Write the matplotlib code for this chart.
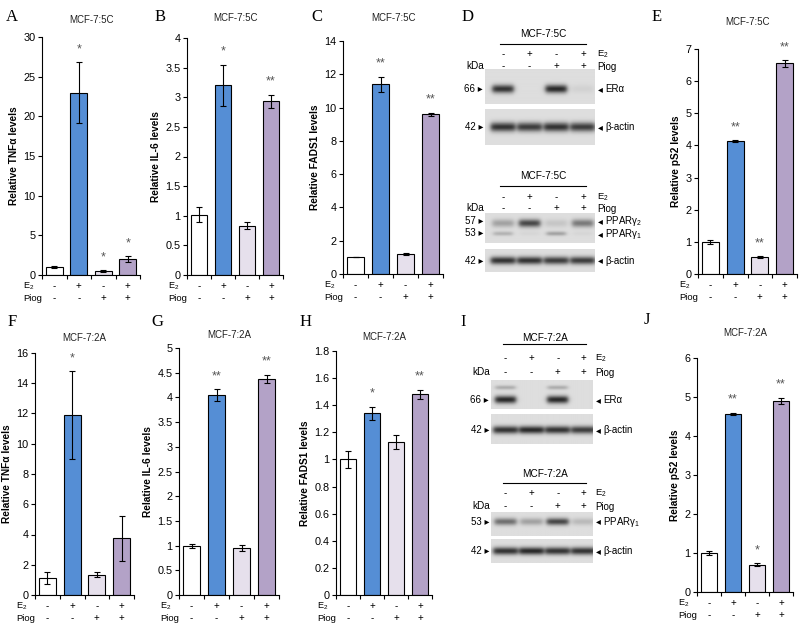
import numpy as np
import matplotlib
matplotlib.use("Agg")
import matplotlib.pyplot as plt
import matplotlib.transforms as mtransforms

plt.rcParams['font.family'] = ['Liberation Sans', 'DejaVu Sans']
plt.rcParams['mathtext.fontset'] = 'custom'
plt.rcParams['mathtext.rm'] = 'Liberation Sans'
plt.rcParams['mathtext.it'] = 'Liberation Sans:italic'
plt.rcParams['mathtext.bf'] = 'Liberation Sans:bold'

# ---- bar chart data (4 conditions: ctrl, E2, Piog, E2+Piog) ----
e2_signs = ['-', '+', '-', '+']
piog_signs = ['-', '-', '+', '+']
bar_colors = ['#ffffff', '#558ed5', '#e6e0ec', '#b3a2c7']

a_vals = [1.0, 23.0, 0.5, 2.0]
a_errs = [0.1, 3.8, 0.1, 0.35]
a_sig = ['', '*', '*', '*']

b_vals = [1.02, 3.2, 0.83, 2.93]
b_errs = [0.13, 0.35, 0.06, 0.11]
b_sig = ['', '*', '', '**']

c_vals = [1.0, 11.4, 1.2, 9.6]
c_errs = [0.0, 0.45, 0.06, 0.1]
c_sig = ['', '**', '', '**']

e_vals = [1.0, 4.13, 0.53, 6.55]
e_errs = [0.06, 0.03, 0.03, 0.1]
e_sig = ['', '**', '**', '**']

f_vals = [1.1, 11.9, 1.35, 3.75]
f_errs = [0.4, 2.9, 0.15, 1.5]
f_sig = ['', '*', '', '']

g_vals = [1.0, 4.05, 0.95, 4.38]
g_errs = [0.04, 0.12, 0.06, 0.08]
g_sig = ['', '**', '', '**']

h_vals = [1.0, 1.34, 1.13, 1.48]
h_errs = [0.06, 0.05, 0.05, 0.035]
h_sig = ['', '*', '', '**']

j_vals = [1.0, 4.57, 0.7, 4.9]
j_errs = [0.05, 0.03, 0.04, 0.08]
j_sig = ['', '**', '*', '**']

# ---- western blot band intensities per lane ----
d_era = [0.85, 0.0, 0.9, 0.06]
d_actin1 = [0.85, 0.8, 0.85, 0.8]
d_ppar2 = [0.3, 0.75, 0.12, 0.5]
d_ppar1 = [0.22, 0.04, 0.3, 0.04]
d_actin2 = [0.85, 0.85, 0.8, 0.8]

i_era = [0.9, 0.0, 0.9, 0.0]
i_era_upper = [0.25, 0.0, 0.25, 0.0]
i_actin1 = [0.85, 0.9, 0.85, 0.8]
i_ppar1 = [0.55, 0.3, 0.75, 0.18]
i_actin2 = [0.85, 0.9, 0.85, 0.85]

W, H = 800, 630
fig = plt.figure(figsize=(8, 6.3), dpi=100)


def rect(l, t, r, b):
    return [l / W, 1 - b / H, (r - l) / W, (b - t) / H]


def fy(y):
    return 1 - y / H


FS = 6.5
LETTER_FS = 12


def bar_panel(box, vals, errs, sig, ymax, ystep, ylabel, title, letter, letter_xy, title_y):
    ax = fig.add_axes(rect(*box))
    x = np.arange(len(vals))
    ax.bar(x, vals, width=0.68, color=bar_colors, edgecolor='black', linewidth=0.8, zorder=2)
    ax.errorbar(x, vals, yerr=errs, fmt='none', ecolor='black', elinewidth=0.8,
                capsize=2.5, capthick=0.8, zorder=3)
    ax.set_xlim(-0.5, 3.5)
    ax.set_ylim(0, ymax)
    ticks = np.arange(0, ymax + ystep / 2, ystep)
    ax.set_yticks(ticks)
    ax.set_yticklabels(['{:g}'.format(round(t, 2)) for t in ticks])
    ax.set_xticks([-0.5, 0.5, 1.5, 2.5, 3.5])
    ax.set_xticklabels([])
    for s in ['top', 'right']:
        ax.spines[s].set_visible(False)
    for s in ['left', 'bottom']:
        ax.spines[s].set_linewidth(0.8)
    ax.tick_params(direction='out', length=3, width=0.8, labelsize=7.8, pad=1.5)
    ax.set_ylabel(ylabel, fontsize=7.3, fontweight='bold', labelpad=3)
    for xi, v, e, s in zip(x, vals, errs, sig):
        if s:
            ax.annotate(s, (xi, v + e), xytext=(0, 5), textcoords='offset points',
                        ha='center', va='bottom', fontsize=9, color='#555555')
    # condition rows under the axis
    tr = mtransforms.blended_transform_factory(ax.transData, fig.transFigure)
    bottom = box[3]
    for xi, s1, s2 in zip(x, e2_signs, piog_signs):
        ax.text(xi, fy(bottom + 11), s1, transform=tr, ha='center', va='center', fontsize=7)
        ax.text(xi, fy(bottom + 23), s2, transform=tr, ha='center', va='center', fontsize=7)
    ax.text(-0.8, fy(bottom + 11), 'E$_2$', transform=tr, ha='right', va='center', fontsize=6.6)
    ax.text(-0.5, fy(bottom + 23.5), 'Piog', transform=tr, ha='right', va='center', fontsize=6.8)
    fig.text((box[0] + box[2]) / 2 / W, fy(title_y), title, ha='center', va='center',
             fontsize=7, color='#222222')
    fig.text(letter_xy[0] / W, fy(letter_xy[1]), letter, ha='center', va='center',
             fontsize=LETTER_FS, family='Liberation Serif')
    return ax


bar_panel((42, 37, 140, 275), a_vals, a_errs, a_sig, 30, 5, 'Relative TNFα levels', 'MCF-7:5C', 'A', (12, 17), 20)
bar_panel((187, 38, 283, 275), b_vals, b_errs, b_sig, 4, 0.5, 'Relative IL-6 levels', 'MCF-7:5C', 'B', (160, 17), 18)
bar_panel((343, 41, 443, 274), c_vals, c_errs, c_sig, 14, 2, 'Relative FADS1 levels', 'MCF-7:5C', 'C', (317, 17), 18)
bar_panel((698, 49, 797, 274), e_vals, e_errs, e_sig, 7, 1, 'Relative pS2 levels', 'MCF-7:5C', 'E', (657, 17), 22)
bar_panel((35, 353, 134, 595), f_vals, f_errs, f_sig, 16, 2, 'Relative TNFα levels', 'MCF-7:2A', 'F', (12, 322), 338)
bar_panel((179, 348, 279, 595), g_vals, g_errs, g_sig, 5, 0.5, 'Relative IL-6 levels', 'MCF-7:2A', 'G', (157, 322), 335)
bar_panel((336, 351, 432, 595), h_vals, h_errs, h_sig, 1.8, 0.2, 'Relative FADS1 levels', 'MCF-7:2A', 'H', (306, 322), 337)
bar_panel((697, 358, 793, 592), j_vals, j_errs, j_sig, 6, 1, 'Relative pS2 levels', 'MCF-7:2A', 'J', (647, 320), 333)


def blot_box(box, rows, xlim, markers, right_labels, bg=0.87):
    ax = fig.add_axes(rect(*box))
    nx, ny = 220, 60
    xs = np.linspace(xlim[0], xlim[1], nx)
    ys = np.linspace(1, 0, ny)
    img = np.full((ny, nx), bg)
    for yc, vals, th, hw in rows:
        yp = np.exp(-((ys - yc) / th) ** 2)
        for lane, v in enumerate(vals):
            xp = 1 / (1 + np.exp((np.abs(xs - lane) - hw) / 0.05))
            img -= v * np.outer(yp, xp) * (bg - 0.08)
    ax.imshow(np.clip(img, 0, 1), cmap='gray', vmin=0, vmax=1, aspect='auto',
              extent=(xlim[0], xlim[1], 0, 1), interpolation='bilinear')
    ax.set_xlim(*xlim)
    ax.set_ylim(0, 1)
    ax.axis('off')
    tr = mtransforms.blended_transform_factory(fig.transFigure, ax.transAxes)
    for yc, txt in markers:
        fig.text((box[0] - 2) / W, yc, txt + ' ▸', transform=tr, ha='right', va='center',
                 fontsize=FS + 0.5)
    for yc, txt in right_labels:
        fig.text((box[2] + 3) / W, yc, '◂', transform=tr, ha='left', va='center',
                 fontsize=FS + 0.5)
        fig.text((box[2] + 10) / W, yc, txt, transform=tr, ha='left', va='center',
                 fontsize=FS + 0.5)
    return ax


def blot_header(ax, box, title, title_y, line_y, e2_y, piog_y):
    tr = mtransforms.blended_transform_factory(ax.transData, fig.transFigure)
    ax.text(1.5, fy(title_y), title, transform=tr, ha='center', va='center', fontsize=FS + 0.7)
    ax.plot([-0.1, 3.1], [fy(line_y)] * 2, transform=tr, color='black', lw=0.8, clip_on=False)
    for xi, s1, s2 in zip(range(4), e2_signs, piog_signs):
        ax.text(xi, fy(e2_y), s1, transform=tr, ha='center', va='center', fontsize=FS + 0.5)
        ax.text(xi, fy(piog_y), s2, transform=tr, ha='center', va='center', fontsize=FS + 0.5)
    fig.text((box[2] + 2) / W, fy(e2_y), 'E$_2$', ha='left', va='center', fontsize=FS + 0.3)
    fig.text((box[2] + 2) / W, fy(piog_y + 1), 'Piog', ha='left', va='center', fontsize=FS + 0.5)
    fig.text((box[0] - 1) / W, fy(piog_y), 'kDa', ha='right', va='center', fontsize=FS + 0.7)


d_xlim = (-0.67, 3.45)
ax = blot_box((485, 69, 595, 104), [(0.43, d_era, 0.12, 0.4)], d_xlim, [(0.43, '66')], [(0.43, 'ERα')])
blot_header(ax, (485, 69, 595, 104), 'MCF-7:5C', 34, 44, 54, 66)
blot_box((485, 109, 595, 145), [(0.5, d_actin1, 0.13, 0.46)], d_xlim, [(0.5, '42')], [(0.5, 'β-actin')])
ax = blot_box((485, 213, 595, 243), [(0.64, d_ppar2, 0.13, 0.4), (0.3, d_ppar1, 0.07, 0.36)], d_xlim,
              [(0.72, '57'), (0.32, '53')], [(0.72, 'PPARγ$_2$'), (0.3, 'PPARγ$_1$')])
blot_header(ax, (485, 213, 595, 243), 'MCF-7:5C', 176, 186, 197, 208)
blot_box((485, 249, 595, 272), [(0.5, d_actin2, 0.17, 0.46)], d_xlim, [(0.5, '42')], [(0.5, 'β-actin')])

fig.text(468 / W, fy(17), 'D', ha='center', va='center', fontsize=LETTER_FS, family='Liberation Serif')
fig.text(463 / W, fy(322), 'I', ha='center', va='center', fontsize=LETTER_FS, family='Liberation Serif')

i_xlim = (-0.55, 3.35)
ax = blot_box((491, 380, 593, 409), [(0.31, i_era, 0.13, 0.4), (0.72, i_era_upper, 0.07, 0.38)], i_xlim,
              [(0.31, '66')], [(0.31, 'ERα')])
blot_header(ax, (491, 380, 593, 409), 'MCF-7:2A', 338, 344, 358, 372)
blot_box((491, 414, 593, 444), [(0.47, i_actin1, 0.13, 0.47)], i_xlim, [(0.47, '42')], [(0.47, 'β-actin')])
ax = blot_box((491, 512, 593, 536), [(0.6, i_ppar1, 0.15, 0.42)], i_xlim, [(0.6, '53')], [(0.6, 'PPARγ$_1$')])
blot_header(ax, (491, 512, 593, 536), 'MCF-7:2A', 474, 483, 493, 506)
blot_box((491, 539, 593, 563), [(0.5, i_actin2, 0.16, 0.47)], i_xlim, [(0.5, '42')], [(0.5, 'β-actin')])

fig.savefig('out.png', dpi=100, facecolor='white')
